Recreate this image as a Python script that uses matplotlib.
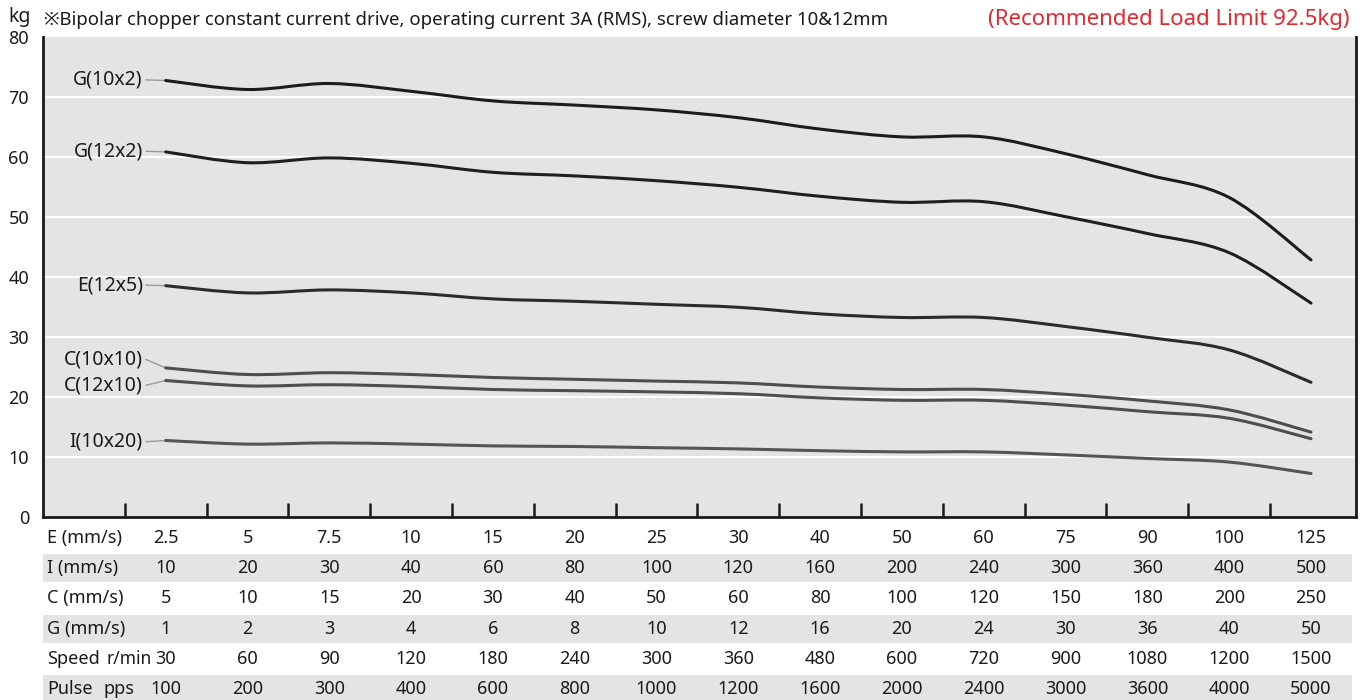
import numpy as np
import matplotlib
matplotlib.use("Agg")
import matplotlib.pyplot as plt
from matplotlib.path import Path
from matplotlib.patches import PathPatch, Rectangle

plt.rcParams['font.family'] = ['Noto Sans', 'Noto Sans CJK SC', 'DejaVu Sans']

# --- data ---
e_speed = ["2.5", "5", "7.5", "10", "15", "20", "25", "30", "40", "50", "60", "75", "90", "100", "125"]
i_speed = [10, 20, 30, 40, 60, 80, 100, 120, 160, 200, 240, 300, 360, 400, 500]
c_speed = [5, 10, 15, 20, 30, 40, 50, 60, 80, 100, 120, 150, 180, 200, 250]
g_speed = [1, 2, 3, 4, 6, 8, 10, 12, 16, 20, 24, 30, 36, 40, 50]
rpm = [30, 60, 90, 120, 180, 240, 300, 360, 480, 600, 720, 900, 1080, 1200, 1500]
pps = [100, 200, 300, 400, 600, 800, 1000, 1200, 1600, 2000, 2400, 3000, 3600, 4000, 5000]

# row headings: (name, unit)
row_names = [("E (mm/s)", ""), ("I (mm/s)", ""), ("C (mm/s)", ""), ("G (mm/s)", ""),
             ("Speed", "r/min"), ("Pulse", "pps")]

g10x2 = [72.7, 71.2, 72.2, 70.9, 69.3, 68.6, 67.8, 66.5, 64.6, 63.3, 63.3, 60.5, 57.0, 53.2, 42.8]
g12x2 = [60.8, 59.0, 59.8, 58.9, 57.4, 56.8, 56.0, 54.9, 53.4, 52.4, 52.5, 50.0, 47.2, 44.0, 35.6]
e12x5 = [38.5, 37.3, 37.8, 37.3, 36.3, 35.9, 35.4, 34.9, 33.8, 33.2, 33.2, 31.7, 29.9, 27.8, 22.4]
c10x10 = [24.8, 23.7, 24.0, 23.7, 23.2, 22.9, 22.6, 22.3, 21.6, 21.2, 21.2, 20.4, 19.3, 17.8, 14.1]
c12x10 = [22.7, 21.8, 22.0, 21.7, 21.2, 21.0, 20.8, 20.5, 19.8, 19.4, 19.4, 18.6, 17.5, 16.4, 13.0]
i10x20 = [12.7, 12.1, 12.3, 12.1, 11.8, 11.7, 11.5, 11.3, 11.0, 10.8, 10.8, 10.3, 9.7, 9.1, 7.2]

series = [
    ("G(10x2)", g10x2, "#1c1c1c", 72.8),
    ("G(12x2)", g12x2, "#1f1f1f", 60.9),
    ("E(12x5)", e12x5, "#2b2b2b", 38.6),
    ("C(10x10)", c10x10, "#4e4e4e", 26.2),
    ("C(12x10)", c12x10, "#4e4e4e", 21.9),
    ("I(10x20)", i10x20, "#555555", 12.5),
]

xpos = np.arange(len(e_speed)) + 1.5
XMAX = 16.05


def smooth_path(x, y):
    """Catmull-Rom through the points, as cubic Bezier segments."""
    pts = np.column_stack([x, y])
    p = np.vstack([pts[0], pts, pts[-1]])
    verts = [pts[0]]
    codes = [Path.MOVETO]
    for k in range(1, len(p) - 2):
        c1 = p[k] + (p[k + 1] - p[k - 1]) / 6
        c2 = p[k + 1] - (p[k + 2] - p[k]) / 6
        verts += [c1, c2, p[k + 1]]
        codes += [Path.CURVE4] * 3
    return Path(verts, codes)


fig = plt.figure(figsize=(13.68, 7), dpi=100)
ax = fig.add_axes([43 / 1368, 183.3 / 700, 1313 / 1368, 480 / 700])
ax.set_facecolor("#e3e4e3")
ax.set_xlim(0, XMAX)
ax.set_ylim(0, 80)

for v in range(10, 80, 10):
    ax.axhline(v, color="white", lw=1.4, zorder=1)

for name, vals, col, ly in series:
    ax.add_patch(PathPatch(smooth_path(xpos, vals), fill=False, edgecolor=col,
                           lw=2.2, zorder=3, capstyle="round"))
    ax.plot([1.26, xpos[0]], [ly, vals[0]], color="#9a9a9a", lw=1.0, zorder=2)
    ax.text(1.22, ly, name, ha="right", va="center", fontsize=14, color="#1a1a1a")

ax.set_yticks(range(0, 90, 10))
ax.set_yticklabels([str(v) for v in range(0, 90, 10)], fontsize=13, color="#1a1a1a")
ax.set_xticks(range(1, 16))
ax.set_xticklabels([])
ax.tick_params(axis="y", length=0, pad=10)
ax.tick_params(axis="x", direction="in", length=10, width=1.8, color="#1a1a1a")
for s in ["left", "bottom", "right"]:
    ax.spines[s].set_color("#1a1a1a")
    ax.spines[s].set_linewidth(2)
ax.spines["top"].set_visible(False)

fig.text(20 / 1368, 1 - 17 / 700, "kg", ha="center", va="center", fontsize=14, color="#1a1a1a")
fig.text(44 / 1368, 1 - 20 / 700,
         "※Bipolar chopper constant current drive, operating current 3A (RMS), screw diameter 10&12mm",
         ha="left", va="center", fontsize=13.4, color="#1a1a1a")
fig.text(1350 / 1368, 1 - 20 / 700, "(Recommended Load Limit 92.5kg)",
         ha="right", va="center", fontsize=16, color="#e8262c")

# --- speed table ---
tab = fig.add_axes([43 / 1368, 0, 1313 / 1368, (700 - 522.9) / 700])
tab.set_xlim(0, XMAX)
tab.set_ylim(5.36, -0.5)
tab.axis("off")
rows = [e_speed, i_speed, c_speed, g_speed, rpm, pps]
unit_style = {"r/min": (0.78, 12.5), "pps": (0.74, 13)}
for r, ((label, unit), vals) in enumerate(zip(row_names, rows)):
    if r % 2 == 1:
        tab.add_patch(Rectangle((0, r - 0.46), 16.0, 0.92, color="#e3e4e3", lw=0, zorder=0))
    tab.text(0.05, r, label, ha="left", va="center", fontsize=13, color="#1a1a1a")
    if unit:
        ux, us = unit_style[unit]
        tab.text(ux, r, unit, ha="left", va="center", fontsize=us, color="#1a1a1a")
    for xp, v in zip(xpos, vals):
        tab.text(xp, r, str(v), ha="center", va="center", fontsize=13, color="#1a1a1a")

fig.savefig("out.png", dpi=100)
